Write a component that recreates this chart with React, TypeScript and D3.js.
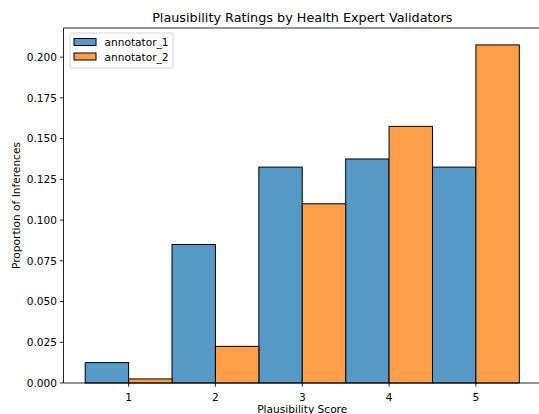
import * as d3 from "d3";

const scores = [1, 2, 3, 4, 5];
const annotator1 = [0.0125, 0.085, 0.1325, 0.1375, 0.1325];
const annotator2 = [0.0025, 0.0225, 0.11, 0.1575, 0.2075];
const yTicks = [0, 0.025, 0.05, 0.075, 0.1, 0.125, 0.15, 0.175, 0.2];
const series = [
  { name: "annotator_1", values: annotator1, color: "#5799c7", offset: -0.5 },
  { name: "annotator_2", values: annotator2, color: "#ff9f4a", offset: 0 },
];

const W = 539;
const H = 414;
const plot = { left: 63.5, right: 541, top: 28, bottom: 383 };
const font = "DejaVu Sans, sans-serif";

export default function App() {
  const yMax = d3.max(series.flatMap((s) => s.values))! * 1.05;
  const x = d3.scaleLinear().domain([0.25, 5.75]).range([plot.left, plot.right]);
  const y = d3.scaleLinear().domain([0, yMax]).range([plot.bottom, plot.top]);

  return (
    <svg
      width={W}
      height={H}
      style={{ position: "absolute", left: 0, top: 0, background: "#fff" }}
      fontFamily={font}
    >
      {/* bars */}
      {series.map((s) =>
        s.values.map((v, i) => {
          const x0 = x(scores[i] + s.offset);
          const x1 = x(scores[i] + s.offset + 0.5);
          return (
            <rect
              key={s.name + i}
              x={x0}
              y={y(v)}
              width={x1 - x0}
              height={y(0) - y(v)}
              fill={s.color}
              stroke="#000"
              strokeWidth={1}
            />
          );
        }),
      )}

      {/* spines */}
      <g stroke="#000" strokeWidth={0.85} fill="none">
        <line x1={plot.left} x2={plot.left} y1={plot.top} y2={plot.bottom} />
        <line x1={plot.left} x2={plot.right} y1={plot.bottom} y2={plot.bottom} />
        <line x1={plot.left} x2={plot.right} y1={plot.top} y2={plot.top} />
        <line x1={plot.right} x2={plot.right} y1={plot.top} y2={plot.bottom} />
      </g>

      {/* x axis */}
      {scores.map((t) => (
        <g key={t} transform={`translate(${x(t)},${plot.bottom})`}>
          <line y2={3.7} stroke="#000" strokeWidth={0.85} />
          <text y={17.5} textAnchor="middle" fontSize={10.6} fill="#000">
            {t}
          </text>
        </g>
      ))}
      <text x={(plot.left + plot.right) / 2} y={412.5} textAnchor="middle" fontSize={10.6}>
        Plausibility Score
      </text>

      {/* y axis */}
      {yTicks.map((t) => (
        <g key={t} transform={`translate(${plot.left},${y(t)})`}>
          <line x2={-3.7} stroke="#000" strokeWidth={0.85} />
          <text x={-6.5} dy="0.35em" textAnchor="end" fontSize={10.6} fill="#000">
            {d3.format(".3f")(t)}
          </text>
        </g>
      ))}
      <text
        transform={`translate(20,${(plot.top + plot.bottom) / 2}) rotate(-90)`}
        textAnchor="middle"
        fontSize={10.6}
      >
        Proportion of Inferences
      </text>

      {/* title */}
      <text x={(plot.left + plot.right) / 2} y={21.5} textAnchor="middle" fontSize={12.8}>
        Plausibility Ratings by Health Expert Validators
      </text>

      {/* legend */}
      <rect
        x={70}
        y={33}
        width={103}
        height={35}
        rx={2}
        fill="#fff"
        fillOpacity={0.8}
        stroke="#ccc"
        strokeWidth={0.8}
      />
      {series.map((s, i) => (
        <g key={s.name} transform={`translate(74,${38.5 + i * 14.5})`}>
          <rect width={22} height={7} fill={s.color} stroke="#000" strokeWidth={1} />
          <text x={30.5} y={7.8} fontSize={10.6}>
            {s.name}
          </text>
        </g>
      ))}
    </svg>
  );
}
